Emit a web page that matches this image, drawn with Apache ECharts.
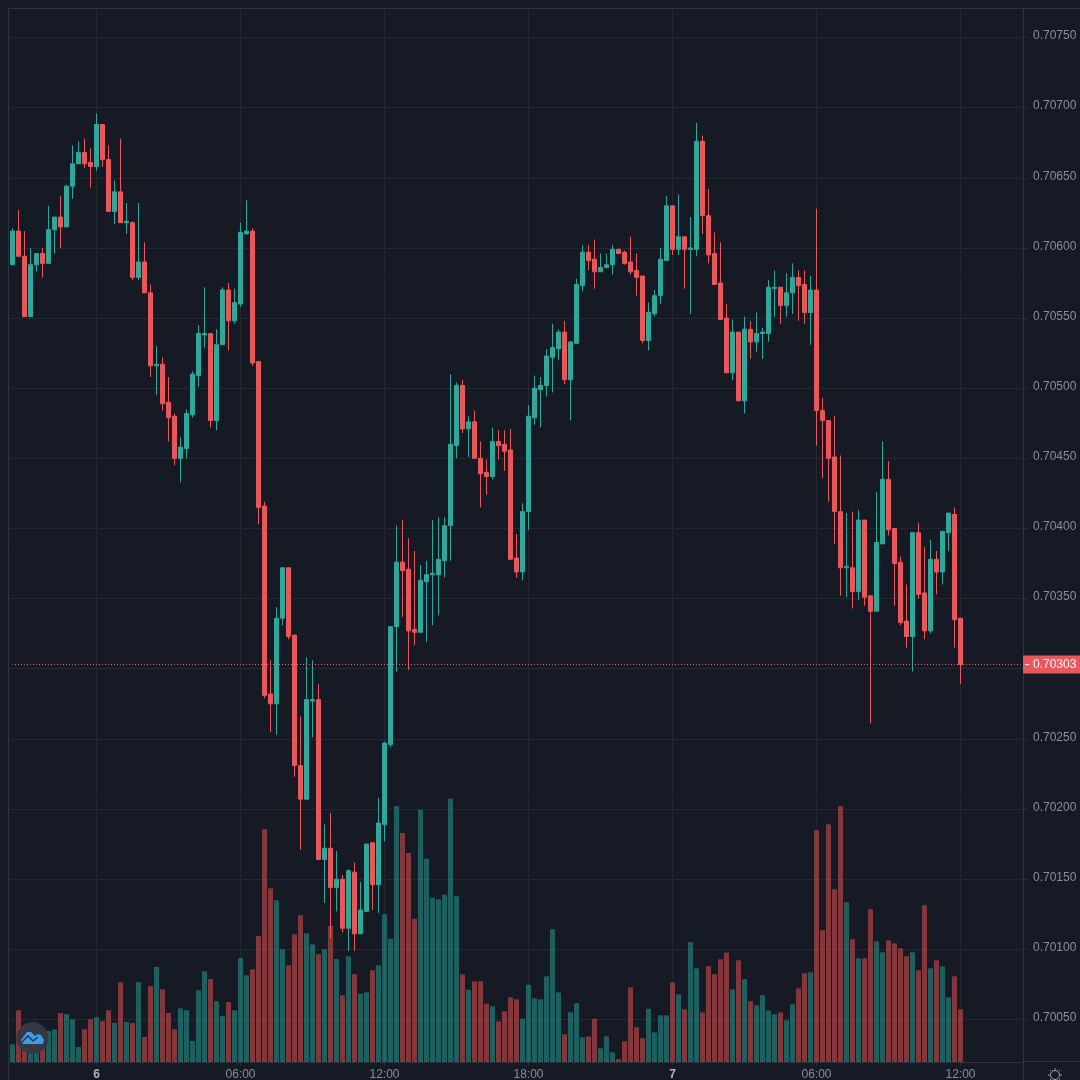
<!DOCTYPE html>
<html>
<head>
<meta charset="utf-8">
<style>html,body{margin:0;padding:0;background:#161a25}#c{width:1080px;height:1080px}</style>
<script src="https://cdn.jsdelivr.net/npm/echarts@6/dist/echarts.min.js"></script>
</head>
<body>
<div id="c"></div>
<script>
// Prices are in units of 0.00001
const direction = 'GRRGGRGGRG'+'GGRRGRRGRG'+'RGRRGRRRGG'+'GGGRGGRGGG'+'RRRRGGRRRG'+'GRGRGRGRGG'+'RGGGGRRRGG'+'GGGGGRGRRR'+'GRRRRGGGGG'+'GGRGGGRRGG'+'GRRRRRGGGG'+'RGRGGRRRRR'+'GRGRGGGGRG'+'GRRGRRRRRG'+'RGRRGGRRRR'+'GRRGRGGRR';
const bodyTop = [70612,70612,70594,70588,70596,70596,70613,70622,70622,70644,
70660,70668,70668,70661,70688,70688,70663,70640,70640,70619,
70618,70590,70590,70568,70517,70517,70490,70480,70458,70482,
70510,70539,70539,70539,70531,70570,70570,70561,70611,70612,
70612,70519,70416,70282,70336,70372,70372,70324,70231,70278,
70278,70278,70172,70172,70150,70150,70156,70155,70128,70175,
70176,70190,70247,70330,70376,70376,70371,70328,70363,70367,
70368,70378,70402,70460,70502,70502,70476,70476,70450,70440,
70462,70462,70460,70456,70379,70412,70480,70500,70502,70523,
70529,70540,70540,70533,70574,70597,70597,70592,70586,70588,
70599,70599,70597,70590,70584,70580,70554,70566,70592,70630,
70630,70608,70608,70600,70676,70676,70623,70596,70575,70550,
70540,70540,70542,70542,70539,70540,70572,70572,70572,70568,
70579,70579,70574,70570,70570,70484,70477,70451,70412,70373,
70372,70406,70406,70352,70390,70435,70435,70400,70376,70334,
70397,70397,70354,70378,70378,70398,70411,70410,70336];
const bodyBottom = [70588,70594,70551,70551,70588,70589,70589,70613,70615,70615,
70644,70660,70660,70658,70658,70663,70626,70626,70618,70618,
70579,70579,70568,70516,70516,70489,70479,70450,70450,70457,
70481,70509,70538,70477,70477,70531,70548,70548,70560,70610,
70518,70415,70281,70275,70275,70336,70323,70231,70207,70207,
70277,70164,70164,70144,70144,70115,70115,70111,70111,70127,
70146,70146,70189,70246,70330,70370,70327,70326,70326,70362,
70367,70367,70377,70402,70459,70471,70471,70450,70439,70437,
70437,70459,70455,70378,70369,70369,70412,70479,70499,70502,
70522,70528,70506,70506,70532,70573,70591,70583,70583,70586,
70588,70596,70589,70583,70579,70534,70534,70553,70566,70591,
70599,70599,70599,70599,70599,70623,70595,70574,70549,70511,
70511,70491,70491,70533,70533,70539,70539,70571,70559,70559,
70568,70573,70554,70554,70484,70477,70450,70412,70372,70372,
70355,70355,70351,70341,70341,70389,70399,70375,70333,70323,
70323,70353,70327,70327,70369,70369,70397,70335,70303];
const wickHigh = [70614,70627,70612,70600,70596,70600,70630,70622,70637,70645,
70673,70676,70678,70671,70696,70688,70673,70648,70678,70632,
70619,70632,70604,70574,70530,70522,70508,70482,70465,70485,
70512,70545,70572,70539,70542,70572,70575,70571,70618,70634,
70614,70519,70419,70306,70344,70372,70372,70324,70266,70308,
70306,70289,70189,70197,70170,70153,70157,70162,70148,70175,
70176,70208,70248,70330,70402,70406,70393,70384,70374,70377,
70406,70408,70408,70510,70504,70506,70480,70484,70462,70449,
70472,70470,70470,70471,70396,70418,70488,70509,70508,70528,
70546,70542,70548,70533,70578,70602,70602,70606,70596,70596,
70602,70599,70598,70608,70596,70580,70561,70570,70600,70637,
70630,70638,70608,70622,70689,70680,70642,70611,70604,70560,
70549,70540,70551,70548,70554,70543,70577,70584,70572,70582,
70589,70584,70584,70580,70628,70493,70477,70480,70452,70411,
70412,70413,70406,70352,70426,70462,70448,70400,70380,70360,
70397,70404,70387,70392,70384,70398,70411,70415,70336];
const wickLow = [70588,70594,70551,70551,70583,70579,70589,70596,70600,70615,
70635,70660,70657,70643,70655,70658,70626,70617,70618,70610,
70577,70577,70568,70508,70495,70484,70462,70445,70433,70450,
70479,70501,70529,70472,70470,70531,70527,70546,70558,70610,
70516,70403,70279,70255,70253,70331,70321,70223,70171,70207,
70251,70164,70133,70108,70127,70112,70099,70099,70111,70127,
70128,70126,70177,70244,70298,70337,70299,70317,70326,70319,
70331,70338,70365,70377,70450,70468,70451,70450,70415,70424,
70435,70449,70441,70378,70365,70363,70399,70474,70472,70494,
70497,70520,70503,70477,70532,70569,70584,70571,70583,70586,
70581,70596,70588,70581,70566,70532,70527,70551,70560,70591,
70595,70595,70571,70553,70594,70610,70589,70574,70549,70511,
70506,70491,70482,70521,70526,70521,70533,70551,70546,70551,
70553,70548,70546,70531,70459,70436,70419,70389,70352,70351,
70343,70349,70345,70261,70341,70389,70395,70345,70331,70315,
70298,70350,70321,70325,70353,70360,70384,70315,70289];
const volume = [17.7,51.7,20,22,18,24,31,32.7,49,47.7,
42.7,15,32.7,42.7,44.7,41,51.7,39,79.7,40,
39,79.7,25,75.7,95,72.7,49,32.7,53.7,51.7,
21,71.7,90.7,83,60.7,46,60,51.7,104,86.7,
92.7,126,232.7,173.7,161.7,112.7,96.7,127.7,146.7,128.7,
117.7,107.7,112.7,136,103,66.7,105.7,87.7,68.3,69.7,
91.7,96.7,147.7,123.3,255.7,229,209,143.3,252.3,203.3,
164.3,162.7,167.3,263.3,165.7,87.7,72.3,80.7,80.7,58.3,
55.7,40.7,50.7,64.7,62.7,43.3,77.3,63.7,62.7,85.7,
132.7,69.7,27.7,49.7,58.7,24.7,25.7,43.3,13.7,25.7,
9.7,2.7,20.7,74.7,34.7,23.7,53.3,29.7,46.7,46.7,
79.7,67.7,52.7,119.7,93.7,49.7,95.7,87.7,102.7,109.3,
72.7,101.7,82.7,60.7,56.7,66.7,51.7,47.7,49.7,41.7,
57.7,73.7,88.7,89.7,231.7,131.7,237.7,172.7,255.7,159.7,
122.7,103.7,103.7,152.7,120.7,109.7,121.7,118.7,113.7,105.7,
109.7,91.7,156.7,93.7,101.7,95.7,64.7,85.7,52.7];
const priceTicks = [0.7005,0.701,0.7015,0.702,0.7025,0.703,0.7035,0.704,0.7045,0.705,0.7055,0.706,0.7065,0.707,0.7075];
const timeTickIndex = [14,38,62,86,110,134,158];
const timeTickLabels = ['6','06:00','12:00','18:00','7','06:00','12:00'];
const dayLabels = ['6','7'];
const lastPrice = 0.70303;
const slotCount = 169;

const RED = '#e9575a', GREEN = '#2fa79b', GRID = '#242833', EDGE = '#2f333e', TXT = '#8b8e99';
const categories = Array.from({length: slotCount}, (_, i) => {
  const k = timeTickIndex.indexOf(i);
  return k >= 0 ? timeTickLabels[k] : 't' + i;
});
const isTick = (i) => timeTickIndex.indexOf(i) >= 0;
const candles = bodyTop.map((t, i) => {
  const up = direction[i] === 'G';
  const o = up ? bodyBottom[i] : t, c = up ? t : bodyBottom[i];
  return [o / 1e5, c / 1e5, wickLow[i] / 1e5, wickHigh[i] / 1e5];
});
const volumeBars = volume.map((v, i) => ({
  value: v,
  itemStyle: {color: direction[i] === 'G' ? 'rgba(38,166,154,0.5)' : 'rgba(239,83,80,0.5)'}
}));
const priceLine = categories.map(() => lastPrice);

const chart = echarts.init(document.getElementById('c'), null, {renderer: 'canvas'});
chart.setOption({
  animation: false,
  backgroundColor: '#161a25',
  textStyle: {fontFamily: '"Liberation Sans", Arial, sans-serif'},
  grid: {left: 9.5, right: 56.5, top: 9, bottom: 18, show: false, outerBoundsMode: 'none'},
  xAxis: {
    type: 'category',
    data: categories,
    boundaryGap: true,
    axisLine: {show: true, lineStyle: {color: EDGE, width: 1}},
    axisTick: {show: true, alignWithLabel: true, length: 3, interval: isTick, lineStyle: {color: EDGE}},
    splitLine: {show: true, alignWithLabel: true, interval: isTick, lineStyle: {color: GRID, width: 1}},
    axisLabel: {
      show: true, interval: isTick, margin: 7, fontSize: 12, color: TXT,
      formatter: (v) => dayLabels.indexOf(v) >= 0 ? '{d|' + v + '}' : v,
      rich: {d: {fontWeight: 'bold', fontSize: 12, color: '#b2b5be'}}
    }
  },
  yAxis: [{
    type: 'value', position: 'right', min: 0.7001964, max: 0.7077034, scale: true,
    axisLine: {show: true, lineStyle: {color: EDGE}},
    axisTick: {show: true, length: 5, customValues: priceTicks, lineStyle: {color: GRID}},
    splitLine: {show: true, lineStyle: {color: GRID, width: 1}},
    axisLabel: {
      show: true, margin: 9.5, fontSize: 12, color: TXT, customValues: priceTicks,
      formatter: (v) => '{p|' + v.toFixed(5) + '}',
      rich: {p: {color: TXT, fontSize: 12, padding: [0, 0, 3, 0]}}
    }
  }, {
    type: 'value', position: 'right', min: 0, max: 1053, show: false, splitLine: {show: false}
  }],
  series: [{
    type: 'bar', name: 'Volume', data: volumeBars, xAxisIndex: 0, yAxisIndex: 1,
    barWidth: 5, z: 2, silent: true
  }, {
    type: 'candlestick', name: 'Price', data: candles, xAxisIndex: 0, yAxisIndex: 0,
    barWidth: 4, z: 3,
    itemStyle: {color: GREEN, color0: RED, borderColor: GREEN, borderColor0: RED, borderWidth: 1}
  }, {
    type: 'line', name: 'Last price', data: priceLine, xAxisIndex: 0, yAxisIndex: 0,
    symbol: 'none', silent: true, z: 4, zlevel: 1,
    lineStyle: {color: '#f0757a', type: [1, 2], dashOffset: 0.5, width: 1, opacity: 1},
    endLabel: {
      show: true, distance: 2.5, formatter: '{t|}{v|' + lastPrice.toFixed(5) + '}',
      backgroundColor: RED, padding: [3, 5, 3, 2], align: 'left',
      rich: {t: {width: 4, height: 1, backgroundColor: '#ffffff'}, v: {color: '#ffffff', fontSize: 12, padding: [0, 0, 0, 4]}}
    }
  }],
  graphic: [
    {type: 'line', shape: {x1: 8.5, y1: 8.5, x2: 1080, y2: 8.5}, style: {stroke: EDGE, lineWidth: 1}, silent: true},
    {type: 'line', shape: {x1: 8.5, y1: 8.5, x2: 8.5, y2: 1080}, style: {stroke: EDGE, lineWidth: 1}, silent: true},
    {type: 'line', shape: {x1: 1023.5, y1: 1062, x2: 1023.5, y2: 1080}, style: {stroke: EDGE, lineWidth: 1}, silent: true},
    {type: 'line', shape: {x1: 1023, y1: 1061.5, x2: 1080, y2: 1061.5}, style: {stroke: EDGE, lineWidth: 1}, silent: true},
    {type: 'circle', shape: {cx: 32.5, cy: 1038, r: 16}, style: {fill: '#343844'}, z: 20, silent: true},
    {type: 'polygon', shape: {points: [[21, 1040], [27, 1032], [31, 1032], [35, 1036], [38, 1034], [41, 1035], [44, 1040], [43, 1044], [23, 1044]]}, style: {fill: '#3c9ee8'}, z: 21, silent: true},
    {type: 'polyline', shape: {points: [[22, 1042], [28, 1036], [33, 1041], [38, 1037]]}, style: {stroke: '#2a3a52', lineWidth: 1.6, fill: 'none'}, z: 22, silent: true},
    {type: 'circle', shape: {cx: 1055, cy: 1075, r: 4.5}, style: {fill: 'none', stroke: '#a9acb6', lineWidth: 1}, silent: true},
    {type: 'line', shape: {x1: 1055, y1: 1068, x2: 1055, y2: 1069.5}, style: {stroke: '#a9acb6'}, silent: true},
    {type: 'line', shape: {x1: 1048, y1: 1075, x2: 1049.5, y2: 1075}, style: {stroke: '#a9acb6'}, silent: true},
    {type: 'line', shape: {x1: 1060.5, y1: 1075, x2: 1062, y2: 1075}, style: {stroke: '#a9acb6'}, silent: true},
    {type: 'line', shape: {x1: 1050, y1: 1070, x2: 1051, y2: 1071}, style: {stroke: '#a9acb6'}, silent: true},
    {type: 'line', shape: {x1: 1060, y1: 1070, x2: 1059, y2: 1071}, style: {stroke: '#a9acb6'}, silent: true},
    {type: 'line', shape: {x1: 1050, y1: 1080, x2: 1051, y2: 1079}, style: {stroke: '#a9acb6'}, silent: true},
    {type: 'line', shape: {x1: 1060, y1: 1080, x2: 1059, y2: 1079}, style: {stroke: '#a9acb6'}, silent: true}
  ]
});
</script>
</body>
</html>
